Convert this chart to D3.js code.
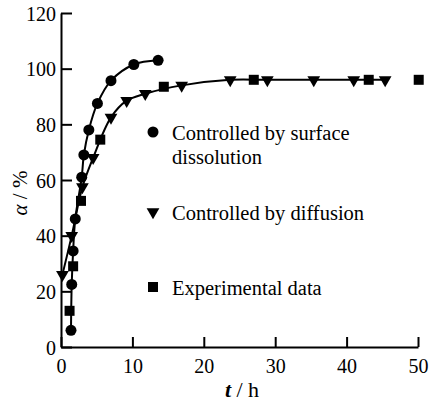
<!DOCTYPE html>
<html>
<head>
<meta charset="utf-8">
<script src="https://cdn.jsdelivr.net/npm/d3@7"></script>
<style>
  body { margin: 0; background: #fff; }
  text { font-family: "Liberation Serif", serif; fill: #000; }
</style>
</head>
<body>
<div id="chart"></div>
<script>
// Data
var surfT = [1.4, 1.5, 1.7, 2.0, 2.9, 3.2, 3.9, 5.1, 7.0, 10.2, 13.6];
var surfA = [6, 22.5, 34.5, 46, 61, 69, 78, 87.5, 95.7, 101.5, 103];

var diffT = [0.2, 1.5, 3.0, 4.5, 7.0, 9.2, 11.8, 16.9, 23.7, 28.9, 35.4, 41.0, 45.4];
var diffA = [26, 40, 57.5, 68, 82.5, 88.5, 91, 94, 96, 96, 96, 96, 96];

var expT = [1.2, 1.7, 2.8, 5.5, 14.4, 27.0, 43.1, 50.1];
var expA = [13, 29, 52.5, 74.5, 93.5, 96, 96, 96];

var xTicks = [0, 10, 20, 30, 40, 50];
var yTicks = [0, 20, 40, 60, 80, 100, 120];

var legendLabels = [["Controlled by surface", "dissolution"], ["Controlled by diffusion"], ["Experimental data"]];

// Chart setup
var svgWidth = 434;
var svgHeight = 403;

var svg = d3.select("#chart").append("svg")
  .attr("width", svgWidth)
  .attr("height", svgHeight);

var xScale = d3.scaleLinear().domain([0, 50]).range([61, 418]);
var yScale = d3.scaleLinear().domain([0, 120]).range([347, 13]);

// Axes, ticks pointing inward
var bottomAxis = d3.axisBottom(xScale).tickValues(xTicks).tickSize(-10).tickSizeOuter(0).tickPadding(11);
var leftAxis = d3.axisLeft(yScale).tickValues(yTicks).tickSize(-11).tickSizeOuter(0).tickPadding(5);

var gx = svg.append("g")
  .attr("transform", "translate(0," + yScale(0) + ")")
  .call(bottomAxis);
var gy = svg.append("g")
  .attr("transform", "translate(" + xScale(0) + ",0)")
  .call(leftAxis);

[gx, gy].forEach(function(g) {
  g.selectAll("path, line").attr("stroke", "#000").attr("stroke-width", 2);
  g.selectAll("text").attr("font-size", "20px").attr("font-family", "Liberation Serif, serif").attr("fill", "#000");
});
gy.selectAll("text").attr("dy", "0.35em");
gx.selectAll("text").attr("dy", "0.75em");

// Axis titles
svg.append("text")
  .attr("x", 242)
  .attr("y", 397)
  .attr("text-anchor", "middle")
  .attr("font-size", "22px")
  .html('<tspan font-style="italic" font-weight="bold">t</tspan> / h');

svg.append("text")
  .attr("transform", "translate(27,193) rotate(-90)")
  .attr("text-anchor", "middle")
  .attr("font-size", "21px")
  .html('<tspan font-style="italic">α</tspan> / %');

// Model curves
var surf = surfT.map(function(t, i) { return [t, surfA[i]]; });
var diff = diffT.map(function(t, i) { return [t, diffA[i]]; });
var exp = expT.map(function(t, i) { return [t, expA[i]]; });

var line = d3.line()
  .x(d => xScale(d[0]))
  .y(d => yScale(d[1]))
  .curve(d3.curveCatmullRom.alpha(0.5));

svg.append("path").datum(surf).attr("d", line)
  .attr("fill", "none").attr("stroke", "#000").attr("stroke-width", 2);
svg.append("path").datum(diff).attr("d", line)
  .attr("fill", "none").attr("stroke", "#000").attr("stroke-width", 2);

// Markers
var tri = d3.symbol().type(d3.symbolTriangle).size(70);

svg.selectAll(".sq").data(exp).enter().append("rect")
  .attr("x", d => xScale(d[0]) - 5)
  .attr("y", d => yScale(d[1]) - 5)
  .attr("width", 10).attr("height", 10)
  .attr("fill", "#000");

svg.selectAll(".tri").data(diff).enter().append("path")
  .attr("d", tri)
  .attr("transform", d => "translate(" + xScale(d[0]) + "," + yScale(d[1]) + ") rotate(180)")
  .attr("fill", "#000");

svg.selectAll(".dot").data(surf).enter().append("circle")
  .attr("cx", d => xScale(d[0]))
  .attr("cy", d => yScale(d[1]))
  .attr("r", 5.5)
  .attr("fill", "#000");

// Legend
var legY = [132, 212, 287];
svg.append("circle").attr("cx", 153).attr("cy", legY[0]).attr("r", 5.5).attr("fill", "#000");
svg.append("path").attr("d", tri).attr("transform", "translate(153," + legY[1] + ") rotate(180)").attr("fill", "#000");
svg.append("rect").attr("x", 148).attr("y", legY[2] - 5).attr("width", 10).attr("height", 10).attr("fill", "#000");

legendLabels.forEach(function(lines, i) {
  lines.forEach(function(s, j) {
    svg.append("text")
      .attr("x", 172)
      .attr("y", legY[i] + 8 + j * 24)
      .attr("font-size", "20.5px")
      .text(s);
  });
});
</script>
</body>
</html>
